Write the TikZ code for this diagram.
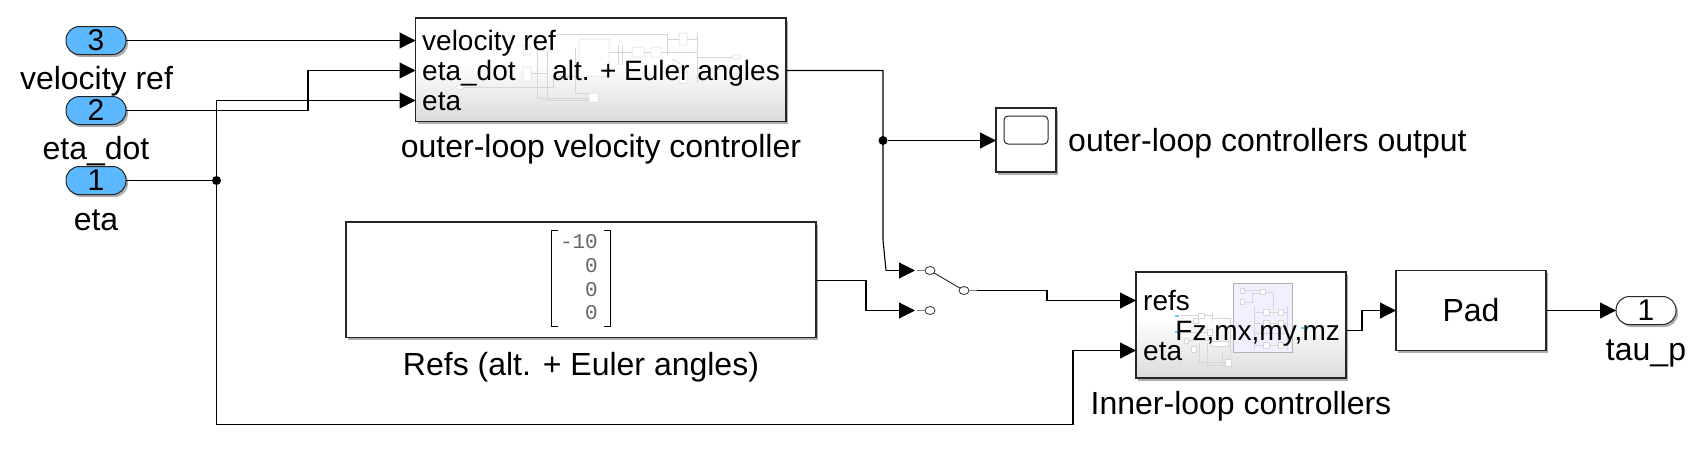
\documentclass[tikz,border=0pt]{standalone}
\usepackage{fontspec}
\setmainfont{Liberation Sans}
\newfontfamily\monofnt{Liberation Mono}
\usetikzlibrary{arrows.meta,shadings,shadows,shapes.geometric}
\definecolor{portblue}{RGB}{92,184,255}
\definecolor{thumb}{RGB}{214,214,214}
\definecolor{lav}{RGB}{240,240,254}
\pgfdeclareverticalshading{blockshade}{100bp}{color(0bp)=(black!14); color(25bp)=(black!14); color(53bp)=(white); color(100bp)=(white)}
\tikzset{x=1pt,y=-1pt,
  wire/.style={line width=1.1pt,black},
  sig/.style={wire,-{Triangle[length=16pt,width=16pt]}},
  lbl/.style={font=\fontsize{32}{34}\selectfont,inner sep=0pt,anchor=base},
  portlbl/.style={font=\fontsize{28}{30}\selectfont,inner sep=0pt,anchor=base west},
  portlblr/.style={font=\fontsize{28}{30}\selectfont,inner sep=0pt,anchor=base east},
  blocksh/.style={drop shadow={shadow xshift=2pt,shadow yshift=-2.5pt,fill=black!45,opacity=.7}},
  base/.style={rectangle,inner sep=0pt,outer sep=0pt,font=\fontsize{30}{32}\selectfont},
  port/.style={base,draw=black!85,line width=1pt,fill=portblue,rounded corners=13.5pt,blocksh,minimum width=60pt,minimum height=28pt},
  oport/.style={port,fill=white},
  subsys/.style={base,draw=black!85,line width=1.2pt,blocksh,shading=blockshade},
  plain/.style={base,draw=black!85,line width=1.2pt,fill=white,blocksh},
  dot/.style={circle,fill=black,inner sep=0pt,outer sep=0pt,minimum size=9pt},
  contact/.style={ellipse,draw=black!80,fill=white,line width=.8pt,inner sep=0pt,outer sep=0pt,minimum width=10pt,minimum height=8pt},
  stub/.style={line width=1.2pt,black!50},
  th/.style={thumb,line width=.5pt},
  matnum/.style={font=\monofnt\fontsize{21}{22}\selectfont,text=black!60,inner sep=0pt,anchor=base east},
}
\begin{document}
\begin{tikzpicture}
\useasboundingbox (0,0) rectangle (1697,455);
% inports
\node[port] (p3) at (96,40.5) {3};
\node[port] (p2) at (96,110.5) {2};
\node[port] (p1) at (96,180.5) {1};
\node[lbl] (l3) at (96.5,89.5) {velocity ref};
\node[lbl] (l2) at (96,159.5) {eta\_dot};
\node[lbl] (l1) at (96,230) {eta};
% outer block
\node[subsys,minimum width=370.5pt,minimum height=103.5pt] (outer) at (600.75,69.75) {};
\coordinate (oin1) at (415.5,40.5);
\coordinate (oin2) at (415.5,70.5);
\coordinate (oin3) at (415.5,100.5);
\coordinate (oout) at (786,70.5);
% thumbnail of outer
\draw[th] (460,87)--(553,87)--(553,76)--(579,76) (557,34)--(667,34)--(667,55)
  (530,73)--(547,73) (547,50)--(547,100)--(589,100) (537,50)--(537,98)--(589,98)
  (575,48)--(575,93)--(589,93) (609,52)--(697,52) (667,39)--(679,39) (687,39)--(697,39)
  (697,32)--(697,83) (697,57)--(732,57) (618,45)--(618,65) (622,45)--(622,65) (644,52)--(651,52);
\draw[th,fill=white] (523,45) rectangle (530,55) (523,67) rectangle (531,81) (579,39) rectangle (609,76)
  (632,47) rectangle (644,57) (651,47) rectangle (661,57) (679,33) rectangle (687,45) (679,72) rectangle (687,83)
  (589,93) rectangle (598,102) (673,59)--(673,72)--(683,65.5)--cycle;
\draw[th,fill=white,rounded corners=2pt] (732,55) rectangle (741,59) (456,85) rectangle (464,89) (543,48) rectangle (549,52);
\node[portlbl] (o1) at (422,50) {velocity ref};
\node[portlbl] (o2) at (422,80) {eta\_dot};
\node[portlbl] (o3) at (422,110) {eta};
\node[portlblr] (o4) at (780,80) {alt. + Euler angles};
\node[lbl] (l4) at (601,157) {outer-loop velocity controller};
% wires into outer
\draw[sig] (p3.east) -- (oin1);
\coordinate (b2a) at (308,110.5);
\coordinate (b2b) at (308,70.5);
\draw[sig] (p2.east) -- (b2a) -- (b2b) -- (oin2);
\node[dot] (j1) at (216.5,180.5) {};
\draw[wire] (p1.east) -- (j1);
\draw[sig] (j1) |- (oin3);
% scope
\node[plain,minimum width=60pt,minimum height=64pt] (scope) at (1026,140) {};
\node[draw=black!85,line width=1pt,rounded corners=4pt,inner sep=0pt,outer sep=0pt,minimum width=44pt,minimum height=28pt] (screen) at (1026,130) {};
\coordinate (scin) at (996,140.5);
\node[font=\fontsize{32}{34}\selectfont,inner sep=0pt,anchor=base west] (l5) at (1068,151) {outer-loop controllers output};
\node[dot] (j2) at (883,140.5) {};
\draw[sig] (j2) -- (scin);
% refs
\node[plain,minimum width=470pt,minimum height=115.5pt] (refs) at (581,279.75) {};
\coordinate (rout) at (816,280.5);
\draw[line width=1pt,black] (558,230.5)--(551.5,230.5)--(551.5,326)--(558,326);
\draw[line width=1pt,black] (604,230.5)--(610.5,230.5)--(610.5,326)--(604,326);
\node[matnum] (m1) at (598,248) {-10};
\node[matnum] (m2) at (598,272) {0};
\node[matnum] (m3) at (598,296) {0};
\node[matnum] (m4) at (598,319) {0};
\node[lbl] (l6) at (581,375) {Refs (alt. + Euler angles)};
% switch
\node[contact] (c1) at (930,270.5) {};
\node[contact] (c2) at (930,310.5) {};
\node[contact] (c3) at (964,290.5) {};
\coordinate (s1) at (915,270.5);
\coordinate (s2) at (915,310.5);
\coordinate (s3) at (977,290.5);
\draw[stub] (917,270.5) -- (c1);
\draw[stub] (917,310.5) -- (c2);
\draw[stub] (c3) -- (s3);
\draw[line width=.9pt,black!85] (c1) -- (c3);
\coordinate (w1) at (883,70.5);
\coordinate (w2) at (883,240);
\coordinate (w3) at (886,270.5);
\draw[wire,line join=round] (oout) -- (w1) -- (w2) -- (w3);
\draw[sig] (w3) -- (s1);
\coordinate (w4) at (866,280.5);
\coordinate (w5) at (866,310.5);
\draw[sig] (rout) -- (w4) -- (w5) -- (s2);
% inner
\node[subsys,minimum width=210pt,minimum height=106pt] (inner) at (1241,325) {};
\coordinate (iin1) at (1136,300.5);
\coordinate (iin2) at (1136,350.5);
\coordinate (iout) at (1346,330.5);
\draw[black!30,line width=1pt,fill=lav] (1233,283) rectangle (1292,352);
% left thumbnail
\draw[th] (1180,315)--(1212,315) (1212,313)--(1212,321) (1212,318)--(1230,318)--(1230,356)
  (1199,343)--(1199,362)--(1225,362) (1207,343)--(1207,365)--(1225,365) (1222,352)--(1222,365)
  (1180,332)--(1207,332) (1188,340)--(1211,340);
\draw[th,fill=white] (1198,313) rectangle (1204,318) (1193,318) rectangle (1198,323) (1207,329) rectangle (1212,335)
  (1184,338) rectangle (1188,343) (1191,346) rectangle (1196,352) (1211,341) rectangle (1228,346) (1225,359) rectangle (1231,366);
% lavender thumbnail
\draw[th] (1244,290)--(1260,290) (1265,292)--(1273,292)--(1273,310) (1245,302)--(1252,302)--(1252,293)--(1260,293)
  (1254,306)--(1254,350) (1287,306)--(1287,350)
  (1254,312)--(1287,312) (1254,323)--(1287,323) (1254,333)--(1287,333) (1254,345)--(1287,345);
\draw[th,fill=white] (1240,288) rectangle (1244,293) (1240,299) rectangle (1244,304) (1260,289) rectangle (1265,294)
  (1263,309) rectangle (1269,315) (1278,309) rectangle (1283,315)
  (1263,320) rectangle (1269,326) (1278,320) rectangle (1283,326)
  (1263,342) rectangle (1269,348) (1278,342) rectangle (1283,348);
\draw[blue!30!cyan!60,line width=1.2pt] (1175,316)--(1179,316) (1175,332)--(1179,332) (1301,328)--(1304,328);
\node[portlbl] (i1) at (1143,310) {refs};
\node[portlbl] (i2) at (1143,360) {eta};
\node[portlblr] (i3) at (1340,340) {Fz,mx,my,mz};
\node[lbl] (l7) at (1241,414) {Inner-loop controllers};
\coordinate (w6) at (1047,290.5);
\coordinate (w7) at (1047,300.5);
\draw[sig] (s3) -- (w6) -- (w7) -- (iin1);
\coordinate (w8) at (216.5,424.5);
\coordinate (w9) at (1073,424.5);
\coordinate (w10) at (1073,350.5);
\draw[sig] (j1) -- (w8) -- (w9) -- (w10) -- (iin2);
% pad
\node[plain,minimum width=150pt,minimum height=80pt,font=\fontsize{32}{34}\selectfont] (pad) at (1471,310.5) {Pad};
\coordinate (w11) at (1362,330.5);
\coordinate (w12) at (1362,310.5);
\draw[sig] (iout) -- (w11) -- (w12) -- (pad.west);
% outport
\node[oport] (out) at (1646,310.5) {1};
\draw[sig] (pad.east) -- (out.west);
\node[lbl] (l8) at (1646,360) {tau\_p};
\end{tikzpicture}
\end{document}
